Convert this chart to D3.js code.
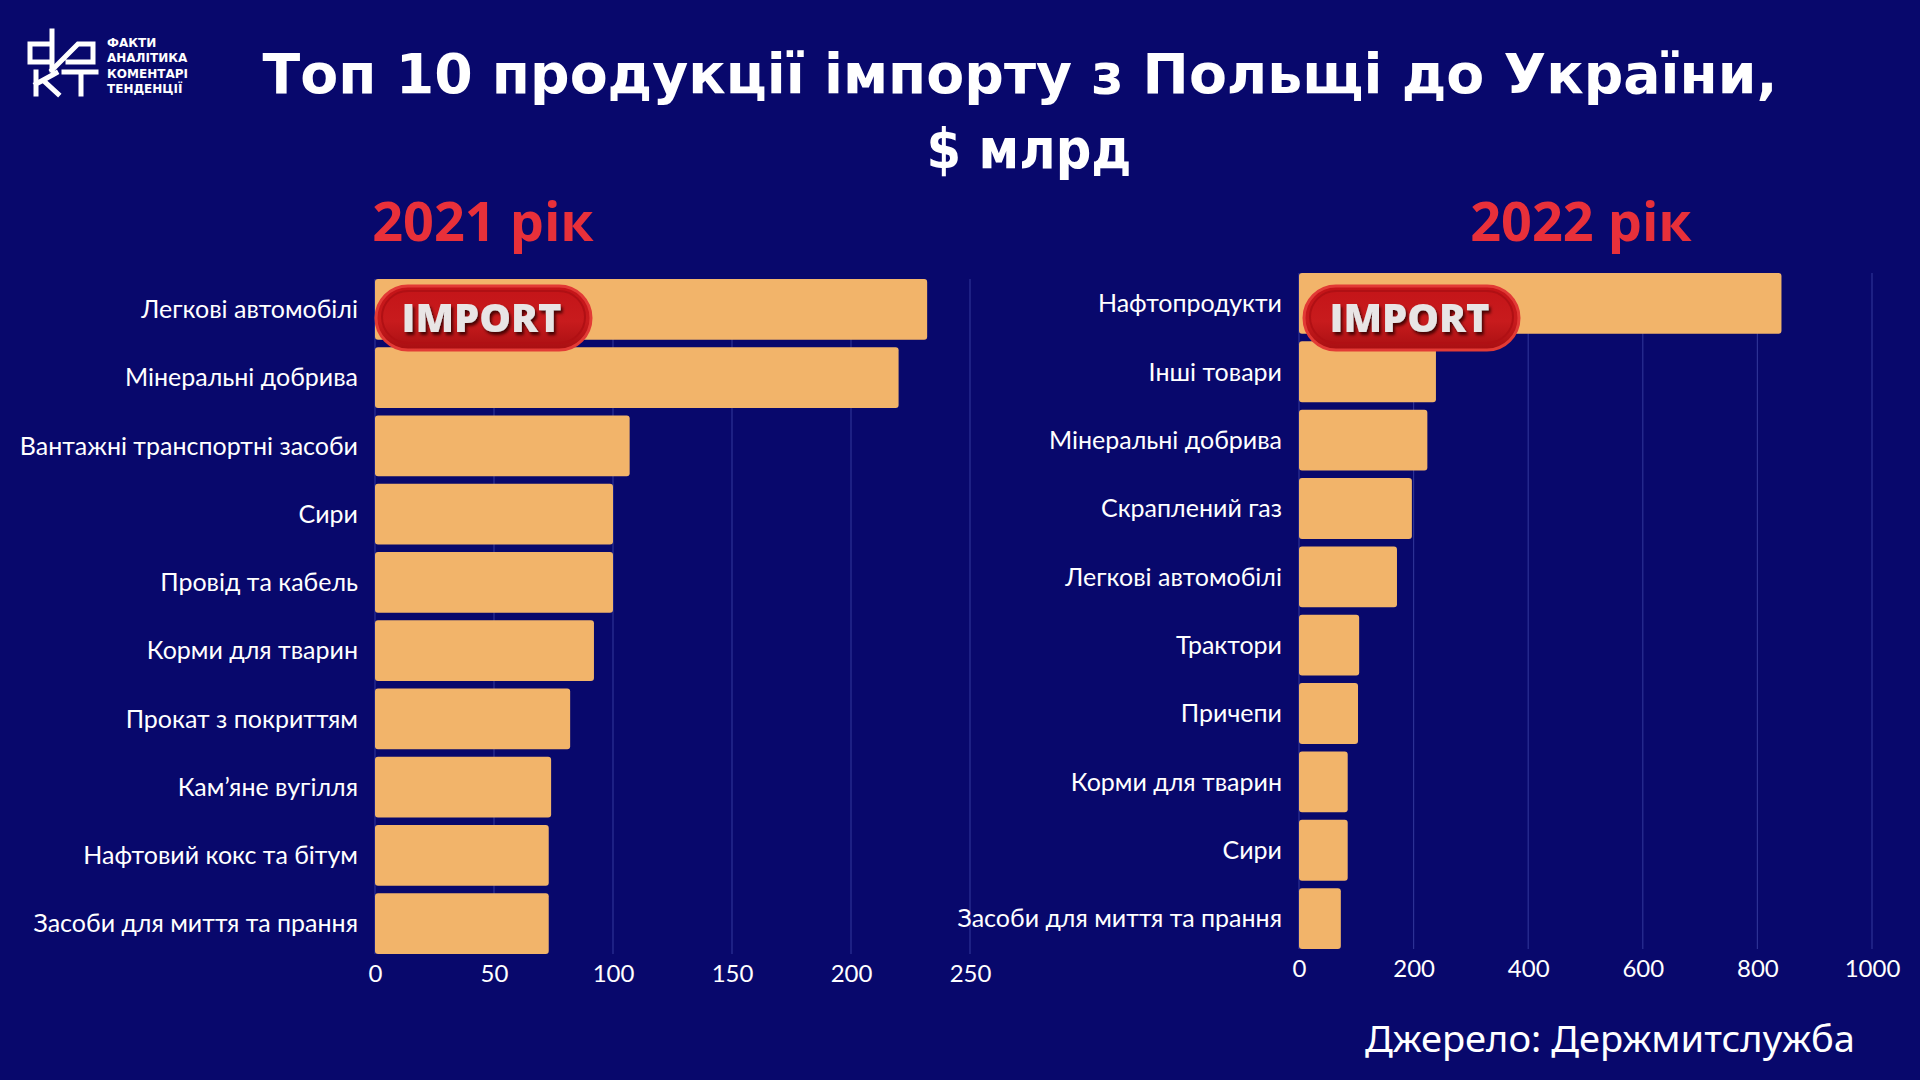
<!DOCTYPE html>
<html>
<head>
<meta charset="utf-8">
<script src="https://cdn.jsdelivr.net/npm/d3@7"></script>
<style>
  html, body { margin: 0; padding: 0; background: #08086c; }
  svg { display: block; }
</style>
</head>
<body>
<svg id="chart"></svg>
<script>
// --- дані ---
const cats2021 = ["Легкові автомобілі", "Мінеральні добрива", "Вантажні транспортні засоби", "Сири",
  "Провід та кабель", "Корми для тварин", "Прокат з покриттям", "Кам’яне вугілля",
  "Нафтовий кокс та бітум", "Засоби для миття та прання"];
const vals2021 = [232, 220, 107, 100, 100, 92, 82, 74, 73, 73];
const ticks2021 = [0, 50, 100, 150, 200, 250];

const cats2022 = ["Нафтопродукти", "Інші товари", "Мінеральні добрива", "Скраплений газ",
  "Легкові автомобілі", "Трактори", "Причепи", "Корми для тварин", "Сири", "Засоби для миття та прання"];
const vals2022 = [842, 239, 224, 197, 171, 105, 103, 85, 85, 73];
const ticks2022 = [0, 200, 400, 600, 800, 1000];

const W = 1920, H = 1080;
const BG = "#08086c", BAR = "#f2b46a", RED = "#e8303a";

const svg = d3.select("#chart").attr("width", W).attr("height", H);
svg.append("rect").attr("width", W).attr("height", H).attr("fill", BG);

const defs = svg.append("defs");
const grad = defs.append("linearGradient").attr("id", "pill").attr("x1", 0).attr("y1", 0).attr("x2", 0).attr("y2", 1);
grad.append("stop").attr("offset", "0%").attr("stop-color", "#c41418");
grad.append("stop").attr("offset", "55%").attr("stop-color", "#c81b1d");
grad.append("stop").attr("offset", "100%").attr("stop-color", "#a80f12");
const sh = defs.append("filter").attr("id", "txtsh").attr("x", "-20%").attr("y", "-20%").attr("width", "140%").attr("height", "150%");
sh.append("feDropShadow").attr("dx", 2).attr("dy", 3).attr("stdDeviation", 1.5).attr("flood-color", "#3a0505").attr("flood-opacity", 0.9);

// --- заголовок ---
svg.append("text").attr("x", 1020).attr("y", 93).attr("text-anchor", "middle")
  .attr("fill", "#fff").attr("font-family", "DejaVu Sans").attr("font-weight", "bold")
  .attr("font-size", 56).attr("textLength", 1515).attr("lengthAdjust", "spacingAndGlyphs")
  .text("Топ 10 продукції імпорту з Польщі до України,");
svg.append("text").attr("x", 1029).attr("y", 168).attr("text-anchor", "middle")
  .attr("fill", "#fff").attr("font-family", "DejaVu Sans").attr("font-weight", "bold")
  .attr("font-size", 56).attr("textLength", 205).attr("lengthAdjust", "spacingAndGlyphs")
  .text("$ млрд");

// --- логотип ---
const logo = svg.append("g").attr("fill", "none").attr("stroke", "#fff").attr("stroke-width", 5)
  .attr("stroke-linecap", "square");
logo.append("path").attr("d", "M52,62 H30 V44 H52 M52,31 V70");
logo.append("path").attr("d", "M52,70 L78,44 H93 V62 H68");
logo.append("path").attr("d", "M36,72 V94 M36,84 L56,73 M44,81 L58,94");
logo.append("path").attr("d", "M64,72 H96 M81,72 V94");
const logoTxt = ["ФАКТИ", "АНАЛІТИКА", "КОМЕНТАРІ", "ТЕНДЕНЦІЇ"];
svg.append("g").selectAll("text").data(logoTxt).join("text")
  .attr("x", 107).attr("y", (d, i) => 47 + i * 15.3)
  .attr("fill", "#fff").attr("font-family", "DejaVu Sans").attr("font-weight", "bold")
  .attr("font-size", 12).text(d => d);

// --- панель ---
function panel(cats, vals, ticks, xr, yr, yearLabel, yearX, badgeX) {
  const x = d3.scaleLinear().domain([ticks[0], ticks[ticks.length - 1]]).range(xr);
  const y = d3.scaleBand().domain(cats).range(yr).paddingInner(0.11);
  const g = svg.append("g");

  g.selectAll(".grid").data(ticks).join("line")
    .attr("x1", d => x(d)).attr("x2", d => x(d))
    .attr("y1", yr[0]).attr("y2", yr[1])
    .attr("stroke", "#2c3194").attr("stroke-width", 1.2);

  g.selectAll(".bar").data(cats).join("rect")
    .attr("x", x(0)).attr("y", d => y(d))
    .attr("width", (d, i) => x(vals[i]) - x(0)).attr("height", y.bandwidth())
    .attr("rx", 3).attr("fill", BAR);

  g.selectAll(".lbl").data(cats).join("text")
    .attr("x", x(0) - 17).attr("y", d => y(d) + y.bandwidth() / 2)
    .attr("dy", "0.35em").attr("text-anchor", "end")
    .attr("fill", "#fff").attr("font-family", "Lato").attr("font-size", 25)
    .text(d => d);

  const ax = g.append("g").attr("transform", `translate(0,${yr[1]})`)
    .call(d3.axisBottom(x).tickValues(ticks).tickFormat(d3.format("d")).tickSize(0).tickPadding(11));
  ax.select(".domain").remove();
  ax.selectAll("text").attr("fill", "#fff").attr("font-family", "Lato").attr("font-size", 24);

  svg.append("text").attr("x", yearX).attr("y", 241).attr("text-anchor", "middle")
    .attr("fill", RED).attr("font-family", "Open Sans").attr("font-weight", "bold")
    .attr("font-size", 54).text(yearLabel);

  // бейдж IMPORT
  const bx = badgeX, by = 286, bw = 215, bh = 64;
  const b = svg.append("g");
  b.append("rect").attr("x", bx).attr("y", by).attr("width", bw).attr("height", bh)
    .attr("rx", bh / 2).attr("fill", "url(#pill)").attr("stroke", "#e23a35").attr("stroke-width", 3);
  b.append("rect").attr("x", bx + 6).attr("y", by + 5).attr("width", bw - 12).attr("height", bh - 12)
    .attr("rx", (bh - 12) / 2).attr("fill", "none").attr("stroke", "#b01014").attr("stroke-width", 2);
  b.append("text").attr("x", bx + bw / 2 - 2).attr("y", by + bh / 2 + 14)
    .attr("text-anchor", "middle").attr("fill", "#e8e5e5").attr("filter", "url(#txtsh)")
    .attr("font-family", "Open Sans").attr("font-weight", "800").attr("font-size", 39)
    .attr("textLength", 160).attr("lengthAdjust", "spacingAndGlyphs")
    .text("IMPORT");
}

panel(cats2021, vals2021, ticks2021, [375, 970], [279, 954], "2021 рік", 483, 376);
panel(cats2022, vals2022, ticks2022, [1299, 1872], [273, 949], "2022 рік", 1581, 1304);

// --- джерело ---
svg.append("text").attr("x", 1855).attr("y", 1052).attr("text-anchor", "end")
  .attr("fill", "#fff").attr("font-family", "Noto Sans").attr("font-size", 36)
  .attr("textLength", 490).attr("lengthAdjust", "spacingAndGlyphs")
  .text("Джерело: Держмитслужба");
</script>
</body>
</html>
